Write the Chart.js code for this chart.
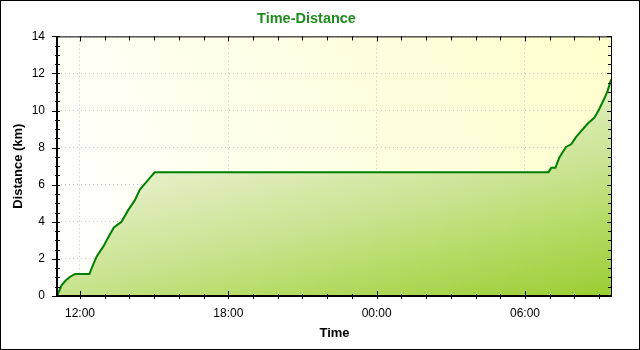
<!DOCTYPE html>
<html><head><meta charset="utf-8">
<script src="https://cdn.jsdelivr.net/npm/chart.js@4/dist/chart.umd.min.js"></script>
<style>
html,body{margin:0;padding:0;background:#fff;}
#wrap{position:absolute;left:0;top:0;width:638px;height:348px;border:1px solid #000;background:#fff;}
canvas{display:block;}
</style></head><body>
<div id="wrap"><canvas id="c" width="638" height="348"></canvas></div>
<script>
// Time in hours since midnight of day 1 (values > 24 are the next morning)
const timeHours = [11.07, 11.26, 11.43, 11.60, 11.80, 12.38, 12.47, 12.67, 12.94, 13.14, 13.37, 13.68, 13.95, 14.22, 14.42, 14.69, 14.91, 15.03,
                   30.95, 31.06, 31.23, 31.39, 31.66, 31.87, 32.07, 32.27, 32.54, 32.81, 33.01, 33.21, 33.35, 33.48];
const distanceKm = [0.00, 0.59, 0.85, 1.04, 1.18, 1.18, 1.49, 2.12, 2.66, 3.16, 3.70, 4.00, 4.63, 5.17, 5.74, 6.15, 6.50, 6.68,
                    6.68, 6.91, 6.91, 7.47, 8.04, 8.18, 8.58, 8.89, 9.30, 9.62, 10.10, 10.65, 11.09, 11.67];
const xMajorTicks = [12, 18, 24, 30];
const xTickLabels = ['12:00', '18:00', '00:00', '06:00'];
const yTicks = [0, 2, 4, 6, 8, 10, 12, 14];
const xRange = [11.07, 33.52];
const yRange = [0, 14];
const chartTitle = 'Time-Distance';
const xTitle = 'Time';
const yTitle = 'Distance (km)';

const decor = {
  id: 'decor',
  beforeDraw(chart) {
    const {ctx, chartArea: a} = chart;
    const g = ctx.createLinearGradient(a.left, a.bottom, a.right, a.top);
    g.addColorStop(0, '#ffffff');
    g.addColorStop(1, '#ffffcc');
    ctx.save();
    ctx.fillStyle = g;
    ctx.fillRect(a.left, a.top, a.right - a.left, a.bottom - a.top);
    ctx.restore();
  },
  afterDraw(chart) {
    const {ctx, chartArea: a, scales} = chart;
    const x = scales.x, y = scales.y;
    ctx.save();
    ctx.strokeStyle = '#000';
    ctx.lineWidth = 1;
    const seg = (x1, y1, x2, y2) => { ctx.beginPath(); ctx.moveTo(x1, y1); ctx.lineTo(x2, y2); ctx.stroke(); };
    seg(a.left, a.top + 0.5, a.right, a.top + 0.5);
    seg(a.right - 0.5, a.top, a.right - 0.5, a.bottom);
    for (let h = Math.ceil(xRange[0]); h <= xRange[1]; h++) {
      const px = Math.round(x.getPixelForValue(h)) + 0.5;
      const major = h % 6 === 0;
      seg(px, a.bottom - (major ? 5 : 2), px, a.bottom + 3);
      seg(px, a.top, px, a.top + (major ? 5 : 4));
    }
    for (let v = yRange[0]; v <= yRange[1]; v += 0.5) {
      const py = Math.round(y.getPixelForValue(v)) + 0.5;
      const major = v % 2 === 0;
      seg(a.left - (major ? 5 : 2), py, a.left + 3, py);
      seg(a.right - (major ? 5 : 4), py, a.right, py);
    }
    ctx.lineWidth = 2;
    seg(a.left, a.top, a.left, a.bottom + 1);
    seg(a.left - 1, a.bottom, a.right, a.bottom);
    ctx.restore();
  }
};

new Chart(document.getElementById('c'), {
  type: 'line',
  data: {
    datasets: [{
      data: timeHours.map((t, i) => ({x: t, y: distanceKm[i]})),
      borderColor: '#008000',
      borderWidth: 2,
      pointRadius: 0,
      tension: 0,
      fill: 'origin',
      backgroundColor: (ctx) => {
        const a = ctx.chart.chartArea;
        if (!a) return 'rgba(154,205,50,0.6)';
        const k = 4.45;
        const dx = a.right - a.left, dy = a.bottom - a.top;
        const s = (dx + k * dy) / (1 + k * k);
        const g = ctx.chart.ctx.createLinearGradient(a.left, a.top, a.left + s, a.top + s * k);
        g.addColorStop(0, '#fbfdf2');
        g.addColorStop(0.435, '#e2eec2');
        g.addColorStop(0.66, '#c8e38e');
        g.addColorStop(0.78, '#b8dc6a');
        g.addColorStop(1, '#9acd32');
        return g;
      }
    }]
  },
  plugins: [decor],
  options: {
    responsive: false,
    devicePixelRatio: 1,
    animation: false,
    events: [],
    layout: {padding: {left: 0, right: 27, top: 0, bottom: 0}},
    plugins: {
      legend: {display: false},
      tooltip: {enabled: false},
      title: {
        display: true, text: chartTitle, color: '#1e8c1e',
        font: {family: 'Liberation Sans', size: 14.5, weight: 'bold'},
        padding: {top: 9, bottom: 9}
      }
    },
    scales: {
      x: {
        type: 'linear', min: xRange[0], max: xRange[1],
        afterFit: (s) => { s.height = 53; },
        afterBuildTicks: (s) => { s.ticks = xMajorTicks.map(v => ({value: v})); },
        ticks: {
          autoSkip: false, maxRotation: 0, padding: 10, color: '#000',
          font: {family: 'Liberation Sans', size: 12},
          callback: (v) => xTickLabels[xMajorTicks.indexOf(v)]
        },
        grid: {color: '#c4c4c4', lineWidth: 1, drawTicks: false},
        border: {display: false, dash: [1, 3]},
        title: {display: true, text: xTitle, color: '#000',
          font: {family: 'Liberation Sans', size: 13, weight: 'bold'}, padding: {top: 0, bottom: 8}}
      },
      y: {
        type: 'linear', min: yRange[0], max: yRange[1],
        afterFit: (s) => { s.width = 56; },
        afterBuildTicks: (s) => { s.ticks = yTicks.map(v => ({value: v})); },
        ticks: {
          padding: 12, color: '#000',
          font: {family: 'Liberation Sans', size: 12}
        },
        grid: {color: '#c4c4c4', lineWidth: 1, drawTicks: false},
        border: {display: false, dash: [1, 3]},
        title: {display: true, text: yTitle, color: '#000',
          font: {family: 'Liberation Sans', size: 13, weight: 'bold'}, padding: {top: 10, bottom: 0}}
      }
    }
  }
});
</script>
</body></html>
